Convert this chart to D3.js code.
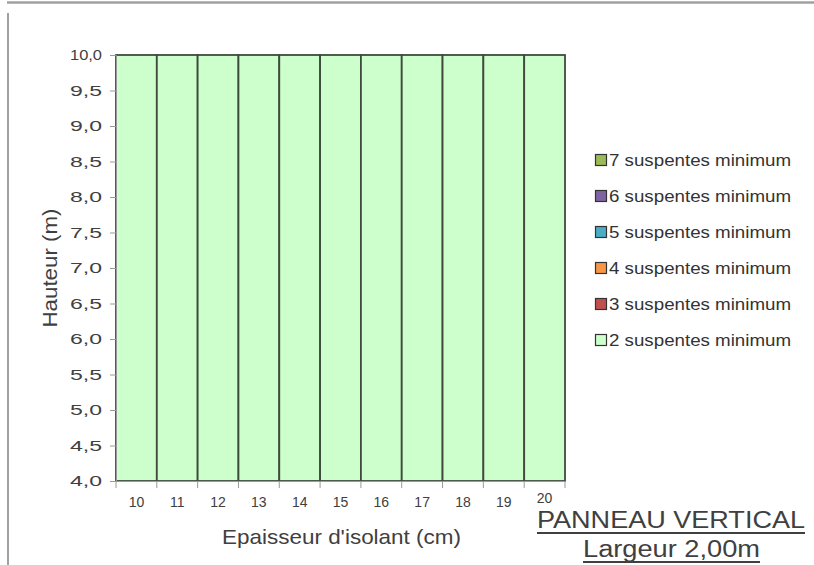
<!DOCTYPE html>
<html>
<head>
<meta charset="utf-8">
<script src="https://cdn.jsdelivr.net/npm/d3@7"></script>
<style>
  html, body { margin: 0; padding: 0; background: #fff; }
  svg { display: block; }
</style>
</head>
<body>
<svg id="chart" width="814" height="565"></svg>
<script>
// Insulation thickness (cm)
const categories = [10, 11, 12, 13, 14, 15, 16, 17, 18, 19, 20];

// Stacked series, bottom to top (heights in m)
const seriesNames = [
  "2 suspentes minimum",
  "3 suspentes minimum",
  "4 suspentes minimum",
  "5 suspentes minimum",
  "6 suspentes minimum",
  "7 suspentes minimum"
];
const s2 = [10, 10, 10, 10, 10, 10, 10, 10, 10, 10, 10];
const s3 = [0, 0, 0, 0, 0, 0, 0, 0, 0, 0, 0];
const s4 = [0, 0, 0, 0, 0, 0, 0, 0, 0, 0, 0];
const s5 = [0, 0, 0, 0, 0, 0, 0, 0, 0, 0, 0];
const s6 = [0, 0, 0, 0, 0, 0, 0, 0, 0, 0, 0];
const s7 = [0, 0, 0, 0, 0, 0, 0, 0, 0, 0, 0];
const seriesColors = ["#CCFFCC", "#C0504D", "#F79646", "#4BACC6", "#8064A2", "#9BBB59"];

const yTicks = [4, 4.5, 5, 5.5, 6, 6.5, 7, 7.5, 8, 8.5, 9, 9.5, 10];

const FONT = "'Liberation Sans', Arial, sans-serif";
const svg = d3.select("#chart");

// Worksheet frame lines
svg.append("line").attr("x1", 7).attr("x2", 814).attr("y1", 2.5).attr("y2", 2.5)
  .attr("stroke", "#a0a0a0").attr("stroke-width", 2.5);
svg.append("line").attr("x1", 8).attr("x2", 8).attr("y1", 13).attr("y2", 565)
  .attr("stroke", "#a0a0a0").attr("stroke-width", 2);

const plot = { left: 116, right: 565, top: 55, bottom: 481 };

const x = d3.scaleBand().domain(categories).range([plot.left, plot.right]).padding(0);
const y = d3.scaleLinear().domain([4, 10]).range([plot.bottom, plot.top]);

const table = categories.map((c, i) => ({
  cat: c,
  [seriesNames[0]]: s2[i], [seriesNames[1]]: s3[i], [seriesNames[2]]: s4[i],
  [seriesNames[3]]: s5[i], [seriesNames[4]]: s6[i], [seriesNames[5]]: s7[i]
}));
const stacked = d3.stack().keys(seriesNames)(table);

const clamp = v => Math.max(4, Math.min(10, v));

const layers = svg.append("g").selectAll("g").data(stacked).join("g")
  .attr("fill", (d, i) => seriesColors[i]);
layers.selectAll("rect")
  .data(d => d.filter(p => clamp(p[1]) > clamp(p[0])))
  .join("rect")
  .attr("x", p => x(p.data.cat))
  .attr("width", x.bandwidth())
  .attr("y", p => y(clamp(p[1])))
  .attr("height", p => y(clamp(p[0])) - y(clamp(p[1])))
  .attr("stroke", "#3f4a3f")
  .attr("stroke-width", 1.8);

// Y axis
const yAxis = svg.append("g").attr("transform", `translate(${plot.left},0)`)
  .call(d3.axisLeft(y).tickValues(yTicks).tickSize(6).tickPadding(8)
    .tickFormat(d => d3.format(".1f")(d).replace(".", ",")));
yAxis.select(".domain").attr("stroke", "#999");
yAxis.selectAll(".tick line").attr("stroke", "#999");
yAxis.selectAll("text").attr("fill", "#404040")
  .style("font-family", FONT).style("font-size", "15px")
  .attr("textLength", 32).attr("lengthAdjust", "spacingAndGlyphs");

// X axis: labels centred on bars, ticks at bar boundaries
const xAxis = svg.append("g").attr("transform", `translate(0,${plot.bottom})`)
  .attr("font-size", 14)
  .call(d3.axisBottom(x).tickSize(0).tickPadding(16));
xAxis.attr("font-size", 14).attr("font-family", FONT);
xAxis.select(".domain").attr("stroke", "#999");
xAxis.selectAll("text").attr("fill", "#404040")
  .style("font-family", FONT).style("font-size", "14px")
  .attr("dy", d => d === 20 ? "0.42em" : "0.71em");
const bounds = categories.map(c => x(c)).concat([x(categories[categories.length - 1]) + x.bandwidth()]);
svg.append("g").selectAll("line").data(bounds).join("line")
  .attr("x1", d => d).attr("x2", d => d)
  .attr("y1", plot.bottom).attr("y2", plot.bottom + 7)
  .attr("stroke", "#999");

// Axis titles
svg.append("text")
  .attr("transform", `translate(57,${(plot.top + plot.bottom) / 2}) rotate(-90)`)
  .attr("text-anchor", "middle")
  .attr("fill", "#404040")
  .attr("textLength", 119).attr("lengthAdjust", "spacingAndGlyphs")
  .style("font-family", FONT).style("font-size", "20px")
  .text("Hauteur  (m)");
svg.append("text")
  .attr("x", 341.5).attr("y", 544)
  .attr("text-anchor", "middle")
  .attr("fill", "#404040")
  .attr("textLength", 239).attr("lengthAdjust", "spacingAndGlyphs")
  .style("font-family", FONT).style("font-size", "21px")
  .text("Epaisseur d'isolant (cm)");

// Legend (top series first)
const legendOrder = seriesNames.map((n, i) => ({ name: n, color: seriesColors[i] })).reverse();
const legend = svg.append("g").selectAll("g").data(legendOrder).join("g")
  .attr("transform", (d, i) => `translate(595,${160 + i * 36})`);
legend.append("rect")
  .attr("x", 0.5).attr("y", -5.5).attr("width", 11).attr("height", 11)
  .attr("fill", d => d.color).attr("stroke", "#333").attr("stroke-width", 1.2);
legend.append("text")
  .attr("x", 14).attr("y", 6)
  .attr("fill", "#333")
  .attr("textLength", 182).attr("lengthAdjust", "spacingAndGlyphs")
  .style("font-family", FONT).style("font-size", "16px")
  .text(d => d.name);

// Panel caption
const caption = [
  { text: "PANNEAU VERTICAL", cx: 671, y: 528, w: 268, size: 24 },
  { text: "Largeur 2,00m", cx: 671.5, y: 557, w: 177, size: 23 }
];
caption.forEach(c => {
  svg.append("text")
    .attr("x", c.cx).attr("y", c.y)
    .attr("text-anchor", "middle")
    .attr("fill", "#404040")
    .attr("textLength", c.w).attr("lengthAdjust", "spacingAndGlyphs")
    .style("font-family", FONT).style("font-size", c.size + "px")
    .text(c.text);
  svg.append("line")
    .attr("x1", c.cx - c.w / 2).attr("x2", c.cx + c.w / 2)
    .attr("y1", c.y + 5).attr("y2", c.y + 5)
    .attr("stroke", "#404040").attr("stroke-width", 2);
});
</script>
</body>
</html>
